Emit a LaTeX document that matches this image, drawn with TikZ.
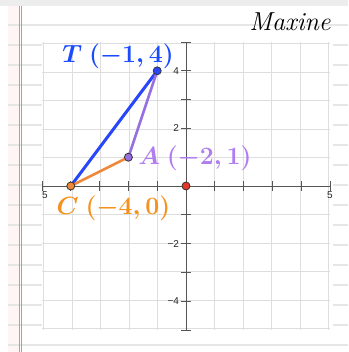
\documentclass[tikz,border=0pt]{standalone}
\usepackage[no-math]{fontspec}
\usepackage{amsmath}
\usetikzlibrary{positioning}
\newfontfamily\tickfont{Liberation Sans}
\definecolor{GBlue}{RGB}{40,70,250}
\definecolor{GPurple}{RGB}{150,112,225}
\definecolor{GOrange}{RGB}{240,135,55}
\definecolor{GRed}{RGB}{228,55,40}
\definecolor{TBlue}{RGB}{25,75,255}
\definecolor{APurple}{RGB}{175,125,240}
\definecolor{COrange}{RGB}{245,145,30}
\definecolor{GridGray}{RGB}{222,222,222}
\definecolor{AxisGray}{RGB}{85,85,85}
\definecolor{PaperLine}{RGB}{230,230,230}
\definecolor{MarginRed}{RGB}{185,155,158}

\begin{document}
\begin{tikzpicture}[x=1pt, y=-1pt,
            dot/.style={circle, draw=black!80, line width=0.8pt,
                        minimum size=8pt, inner sep=0pt},
            ptlabel/.style={font=\fontsize{23}{26}\selectfont\boldmath,
                            inner sep=0pt},
            ticklabel/.style={font=\tickfont\fontsize{10}{11}\selectfont,
                              text=black!85, inner sep=1pt},
            seg/.style={line width=2.6pt, line cap=round}
          ]
          \useasboundingbox (0,0) rectangle (348,352);
          % Notebook paper
          \fill[white] (0,0) rectangle (348,352);
          \fill[black!7] (0,0) rectangle (348,6);
          \fill[red!4] (8,6) rectangle (19,352);
          \foreach \y in {25,45,...,345} {
            \draw[PaperLine, line width=1.3pt] (8,\y) -- (348,\y);
          }
          \draw[MarginRed, line width=1pt] (19.3,6) -- (19.3,352)
                                            (21,6) -- (21,352);
          \node[font=\itshape\fontsize{26}{28}\selectfont] (name) at (290,22) {Maxine};
          % Graph panel
          \begin{scope}[shift={(186,186)}, x=28.8pt, y=28.8pt]
            \fill[white] (-5,-5) rectangle (5.1,5);
            \draw[GridGray, line width=0.6pt] (-5,-5) grid (5,5);
            % Axes with ticks
            \draw[AxisGray, line width=0.8pt] (-5,0) -- (5,0) (0,-5) -- (0,5);
            \foreach \i in {-5,...,5} {
              \draw[AxisGray, line width=0.8pt] (\i,-0.17) -- (\i,0.17);
              \draw[AxisGray, line width=0.8pt] (-0.17,\i) -- (0.17,\i);
            }
            \foreach \v/\t in {4/4, 2/2, -2/−2, -4/−4} {
              \node[ticklabel, anchor=east] (ytick\v) at (-0.2,\v) {\t};
            }
            \node[ticklabel, anchor=north] (xtickL) at (-4.9,-0.17) {5};
            \node[ticklabel, anchor=north] (xtickR) at (5,-0.17) {5};
            % Triangle
            \coordinate (T) at (-1,4);
            \coordinate (A) at (-2,1);
            \coordinate (C) at (-4,0);
            \draw[seg, GBlue, line width=3pt] (T) -- (C);
            \draw[seg, GPurple] (T) -- (A);
            \draw[seg, GOrange] (A) -- (C);
            \node[dot, fill=GBlue] (Tdot) at (T) {};
            \node[dot, fill=GPurple] (Adot) at (A) {};
            \node[dot, fill=GOrange] (Cdot) at (C) {};
            \node[dot, fill=GRed] (Odot) at (0,0) {};
            % Point labels
            \node[ptlabel, text=TBlue] (Tlbl) at (-2.36,4.51) {$T\ (-1,4)$};
            \node[ptlabel, text=APurple] (Albl) at (0.31,0.97) {$A\ (-2,1)$};
            \node[ptlabel, text=COrange] (Clbl) at (-2.52,-0.76) {$C\ (-4,0)$};
          \end{scope}
        \end{tikzpicture}
\end{document}
